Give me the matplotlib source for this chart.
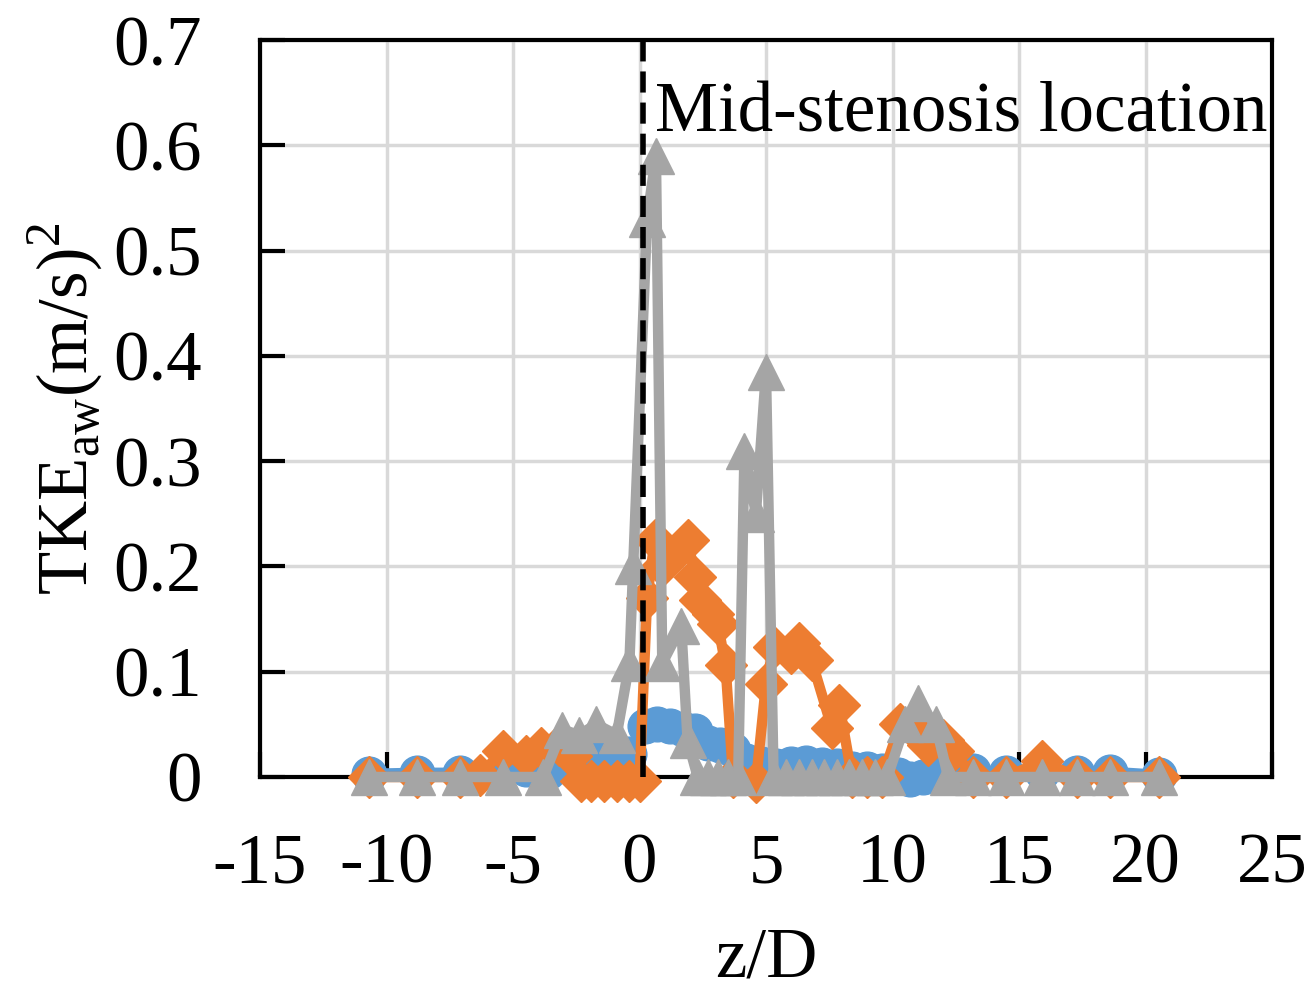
import matplotlib.pyplot as plt

plt.rcParams['font.family'] = ['Liberation Serif', 'DejaVu Serif']
plt.rcParams['mathtext.fontset'] = 'custom'
plt.rcParams['mathtext.rm'] = 'Liberation Serif'

# TKE profiles along the vessel axis (three cases)
blue_z = [-10.7, -8.8, -7.1, -5.5, -4.5, -3.6, -2.8, -2.0, -1.2, -0.4, 0.2, 0.7,
          1.2, 1.7, 2.2, 2.7, 3.2, 3.7, 4.2, 4.8, 5.4, 6.0, 6.6, 7.2, 7.8, 8.4,
          9.0, 9.6, 10.2, 10.7, 11.2, 11.8, 12.4, 13.2, 14.5, 15.9, 17.3, 18.6, 20.55]
blue_v = [0.003, 0.004, 0.004, 0.003, 0.008, 0.005, 0.012, 0.02, 0.018, 0.022, 0.048,
          0.05, 0.048, 0.046, 0.044, 0.032, 0.03, 0.026, 0.015, 0.012, 0.01, 0.012,
          0.013, 0.011, 0.01, 0.008, 0.008, 0.006, 0.002, -0.002, 0.0, 0.004,
          0.008, 0.006, 0.004, 0.005, 0.004, 0.005, 0.002]

orange_z = [-10.7, -8.8, -7.1, -6.3, -5.4, -4.5, -3.9, -3.2, -2.7, -2.3, -1.9, -1.4,
            -0.9, -0.4, 0.0, 0.3, 0.6, 0.9, 1.3, 1.9, 2.2, 2.4, 2.9, 3.1, 3.4, 3.7,
            4.6, 5.0, 5.3, 6.0, 6.3, 6.8, 7.6, 7.9, 8.4, 9.0, 9.6, 10.3, 10.9, 11.4,
            12.0, 12.4, 13.2, 14.5, 15.9, 17.3, 18.6, 20.55]
orange_v = [0.0, 0.0, 0.0, 0.002, 0.025, 0.02, 0.028, 0.03, 0.02, -0.004, -0.004,
            -0.004, -0.004, -0.004, -0.004, 0.17, 0.225, 0.2, 0.21, 0.225, 0.19,
            0.168, 0.155, 0.145, 0.106, 0.0, -0.005, 0.088, 0.123, 0.118, 0.127,
            0.111, 0.047, 0.068, 0.0, 0.0, 0.0, 0.05, 0.045, 0.03, 0.035, 0.025,
            0.0, 0.0, 0.015, 0.0, 0.0, 0.0]

gray_z = [-10.7, -8.8, -7.1, -5.4, -3.8, -3.05, -2.4, -1.7, -0.9, -0.4, -0.25, 0.3,
          0.65, 0.9, 1.65, 1.9, 2.3, 2.7, 3.1, 3.5, 3.9, 4.15, 4.6, 5.0, 5.3, 5.8,
          6.3, 6.8, 7.3, 7.8, 8.3, 8.8, 9.3, 9.8, 10.5, 11.0, 11.7, 12.2, 13.2,
          14.5, 15.9, 17.3, 18.6, 20.55]
gray_v = [0.0, 0.0, 0.0, 0.0, 0.0, 0.045, 0.04, 0.05, 0.04, 0.108, 0.2, 0.53, 0.59,
          0.108, 0.143, 0.035, 0.0, 0.0, 0.0, 0.0, 0.0, 0.31, 0.25, 0.385, 0.0, 0.0,
          0.0, 0.0, 0.0, 0.0, 0.0, 0.0, 0.0, 0.0, 0.05, 0.07, 0.05, 0.0, 0.0, 0.0,
          0.0, 0.0, 0.0, 0.0]

mid_stenosis = 0.12

x_ticks = [-15, -10, -5, 0, 5, 10, 15, 20, 25]
y_ticks = [0, 0.1, 0.2, 0.3, 0.4, 0.5, 0.6, 0.7]
y_tick_labels = ['0', '0.1', '0.2', '0.3', '0.4', '0.5', '0.6', '0.7']

fig = plt.figure(figsize=(13.08, 9.92), dpi=100)
ax = fig.add_axes([260 / 1308, 1 - 777 / 992, 1012 / 1308, 737 / 992])

ax.plot(blue_z, blue_v, color='#5B9BD5', lw=7.5, marker='o', ms=25,
        clip_on=False, zorder=3)
ax.plot(orange_z, orange_v, color='#ED7D31', lw=7.5, marker='D', ms=21,
        clip_on=False, zorder=4)
ax.plot(gray_z, gray_v, color='#A5A5A5', lw=7.5, marker='^', ms=26,
        clip_on=False, zorder=5)

ax.axvline(mid_stenosis, color='black', lw=4, ls=(0, (3.8, 1.8)), zorder=6)
ax.text(0.6, 0.613, 'Mid-stenosis location', fontsize=51, va='baseline',
        ha='left', zorder=7)

ax.set_xlim(-15, 25)
ax.set_ylim(0, 0.7)
ax.set_xticks(x_ticks)
ax.set_xticklabels([str(t) for t in x_ticks])
ax.set_yticks(y_ticks)
ax.set_yticklabels(y_tick_labels)
ax.grid(True, color='#d9d9d9', lw=2.5, zorder=0)
ax.set_axisbelow(True)

for side in ['left', 'right', 'top', 'bottom']:
    ax.spines[side].set_linewidth(3)
    ax.spines[side].set_color('black')
ax.tick_params(axis='both', direction='in', length=18, width=3, labelsize=51,
               top=False, right=False)
ax.tick_params(axis='x', pad=40)
ax.tick_params(axis='y', pad=42)

ax.set_xlabel('z/D', fontsize=51, labelpad=21)
ax.set_ylabel(r'TKE$_{\mathregular{aw}}$(m/s)$^{\mathregular{2}}$', fontsize=51,
              labelpad=6)

fig.savefig('out.png', dpi=100)
